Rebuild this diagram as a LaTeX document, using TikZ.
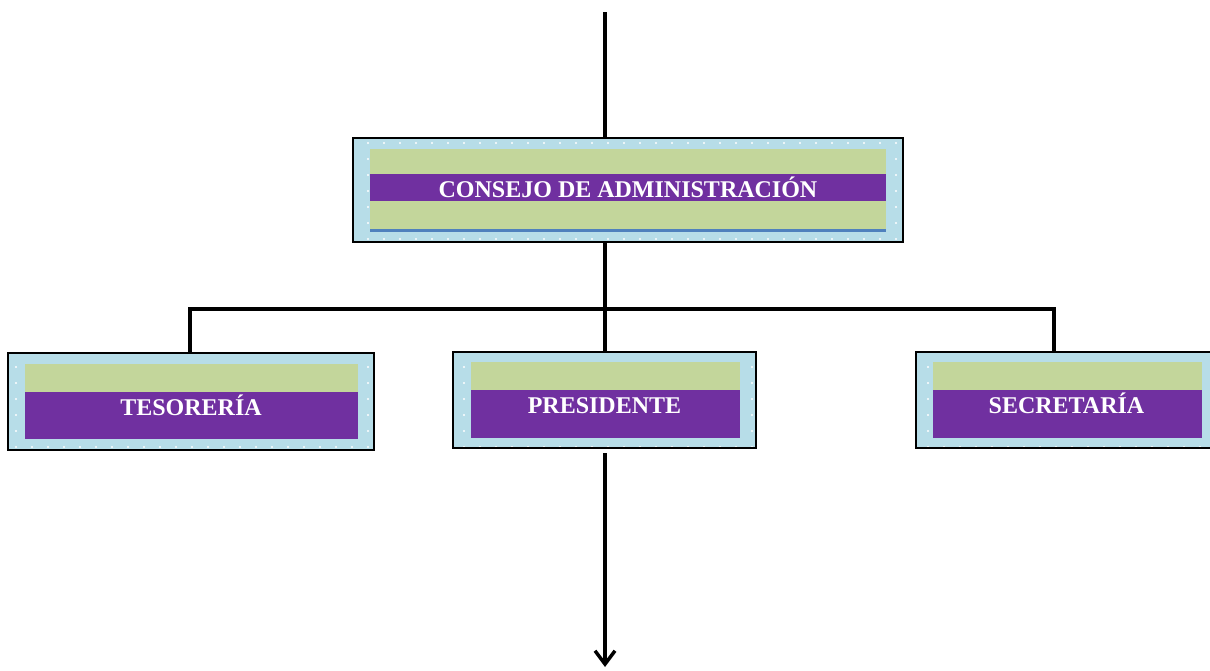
\documentclass[tikz,border=0pt]{standalone}
\usepackage{fontspec}
\setmainfont{Liberation Serif}
\usepackage{tikz}
\usetikzlibrary{shapes,arrows.meta,patterns.meta}

\definecolor{celeste}{HTML}{B7DDE8}
\definecolor{verde}{HTML}{C3D69B}
\definecolor{morado}{HTML}{7030A0}
\definecolor{azul}{HTML}{4F81BD}

\tikzset{
	caja/.style={rectangle,draw=black,line width=1.5pt,inner sep=0pt,
		preaction={fill=celeste},
		pattern={Dots[radius=0.8pt,distance=12pt]},pattern color=white},
	franja/.style={rectangle,fill=verde,inner sep=0pt},
	banda/.style={rectangle,fill=morado,inner sep=0pt},
	rotulo/.style={anchor=base,text=white,font=\fontsize{18}{20}\selectfont\bfseries},
	linea/.style={line width=2.6pt},
}

\begin{document}
\begin{tikzpicture}[x=0.75pt,y=-0.75pt]
	
		\useasboundingbox (0,0) rectangle (1210,671);
		
		\node[caja,minimum width=412.5pt,minimum height=78pt] (consejo) at (628,190) {};
		\node[franja,minimum width=387pt,minimum height=60pt] (consejo-v) at (628,189) {};
		\node[banda,minimum width=387pt,minimum height=20.25pt] (consejo-m) at (628,187.5) {};
		\node[rectangle,fill=azul,inner sep=0pt,minimum width=387pt,minimum height=2.25pt] (consejo-a) at (628,230.5) {};
		\node[rotulo] (consejo-t) at (628,197) {CONSEJO DE ADMINISTRACIÓN};
		
		\node[caja,minimum width=274.5pt,minimum height=72.75pt] (tesoreria) at (191,401.5) {};
		\node[franja,minimum width=249.75pt,minimum height=21pt] (tesoreria-v) at (191.5,378) {};
		\node[banda,minimum width=249.75pt,minimum height=35.25pt] (tesoreria-m) at (191.5,415.5) {};
		\node[rotulo] (tesoreria-t) at (191,415) {TESORERÍA};
		
		\node[caja,minimum width=227.25pt,minimum height=72pt] (presidente) at (604.5,400) {};
		\node[franja,minimum width=201.75pt,minimum height=21pt] (presidente-v) at (605.5,376) {};
		\node[banda,minimum width=201.75pt,minimum height=36pt] (presidente-m) at (605.5,414) {};
		\node[rotulo] (presidente-t) at (604.5,413) {PRESIDENTE};
		
		\node[caja,minimum width=227.25pt,minimum height=72pt] (secretaria) at (1067.5,400) {};
		\node[franja,minimum width=201.75pt,minimum height=21pt] (secretaria-v) at (1067.5,376) {};
		\node[banda,minimum width=201.75pt,minimum height=36pt] (secretaria-m) at (1067.5,414) {};
		\node[rotulo] (secretaria-t) at (1066.5,413) {SECRETARÍA};
		
		\coordinate (entrada) at (605,12);
		\coordinate (ramal) at (605,309);
		\coordinate (ramalI) at (190,309);
		\coordinate (ramalD) at (1054,309);
		\coordinate (salida) at (605,667);
		
		\draw[linea] (entrada) -- (entrada |- consejo.north);
		\draw[linea] (ramal |- consejo.south) -- (ramal);
		\draw[linea] (ramalI |- tesoreria.north) -- (ramalI) -- (ramalD) -- (ramalD |- secretaria.north);
		\draw[linea] (ramal) -- (ramal |- presidente.north);
		\draw[linea,-{Straight Barb[length=10pt,width=15pt]}] ([yshift=-3pt]ramal |- presidente.south) -- (salida);
		
	\end{tikzpicture}
\end{document}
